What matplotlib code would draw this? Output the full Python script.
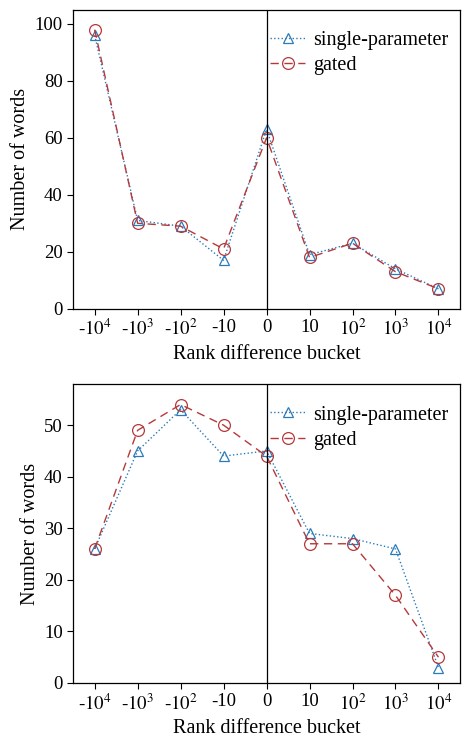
import matplotlib
matplotlib.use("Agg")
import matplotlib.pyplot as plt

plt.rcParams["font.family"] = ["Liberation Serif", "DejaVu Serif"]
plt.rcParams["mathtext.fontset"] = "stix"

buckets = ["-$10^4$", "-$10^3$", "-$10^2$", "-10", "0", "10", "$10^2$", "$10^3$", "$10^4$"]

# top panel
top_single = [96, 31, 29, 17, 63, 19, 23, 14, 7]
top_gated = [98, 30, 29, 21, 60, 18, 23, 13, 7]

# bottom panel
bot_single = [26, 45, 53, 44, 45, 29, 28, 26, 3]
bot_gated = [26, 49, 54, 50, 44, 27, 27, 17, 5]

blue = "#2b7bb9"
red = "#b5393b"

fig = plt.figure(figsize=(4.66, 7.44), dpi=100)
ax1 = fig.add_axes([0.157, 0.585, 0.83, 0.402])
ax2 = fig.add_axes([0.157, 0.082, 0.83, 0.402])

panels = [
    (ax1, top_single, top_gated, 105, range(0, 101, 20)),
    (ax2, bot_single, bot_gated, 58, range(0, 51, 10)),
]

x = list(range(len(buckets)))
for ax, single, gated, ymax, yticks in panels:
    ax.plot(x, single, linestyle=":", color=blue, marker="^", markersize=6.5,
            markerfacecolor="none", markeredgecolor=blue, linewidth=1,
            markeredgewidth=0.9, label="single-parameter")
    ax.plot(x, gated, linestyle=(0, (6, 4)), color=red, marker="o", markersize=8.5,
            markerfacecolor="none", markeredgecolor=red, linewidth=1,
            markeredgewidth=0.9, label="gated")
    ax.axvline(4, color="black", linewidth=0.9)
    ax.set_xlim(-0.5, 8.5)
    ax.set_ylim(0, ymax)
    ax.set_xticks(x)
    ax.set_xticklabels(buckets)
    ax.set_yticks(list(yticks))
    ax.tick_params(labelsize=13.5, length=4, direction="out")
    ax.set_xlabel("Rank difference bucket", fontsize=14.5)
    ax.set_ylabel("Number of words", fontsize=14.5, labelpad=3)
    ax.legend(loc="upper right", bbox_to_anchor=(0.99, 0.955), frameon=False,
              fontsize=14.5, handlelength=1.7, handletextpad=0.4,
              borderaxespad=0, labelspacing=0.3)
    for s in ax.spines.values():
        s.set_linewidth(0.9)

fig.savefig("out.png", dpi=100)
